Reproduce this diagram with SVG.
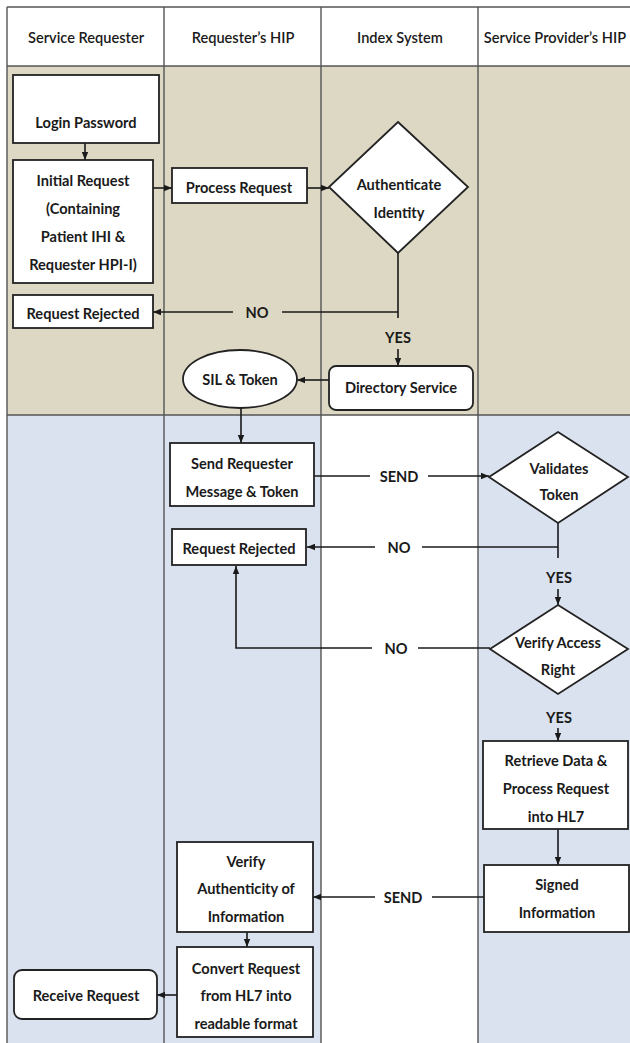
<svg xmlns="http://www.w3.org/2000/svg" width="630" height="1043" viewBox="0 0 630 1043">
<style>
text{font-family:Lato,"Liberation Sans",sans-serif;font-weight:bold;font-size:14.6px;fill:#1a1a1a;text-anchor:middle;dominant-baseline:central}
.hd{font-size:14.6px;font-weight:600}
.box{fill:#fff;stroke:#222;stroke-width:1.8}
.lane{stroke:#555;stroke-width:1.4;fill:none}
.con{stroke:#1a1a1a;stroke-width:1.6;fill:none}
</style>
<defs>
<marker id="ah" viewBox="0 0 8 8" refX="8" refY="4" markerWidth="8" markerHeight="8" markerUnits="userSpaceOnUse" orient="auto">
<path d="M0,0.8 L8,4 L0,7.2 Z" fill="#1a1a1a"/>
</marker>
</defs>
<rect width="630" height="1043" fill="#fff"/>
<g id="lanes">
<rect x="7" y="66" width="623" height="349" fill="#dcd8c4"/>
<rect x="7" y="415" width="623" height="628" fill="#d9e2ee"/>
<rect x="321" y="415" width="157" height="628" fill="#fff"/>
<line class="lane" x1="7" y1="7" x2="630" y2="7"/>
<line class="lane" x1="7" y1="66" x2="630" y2="66"/>
<line class="lane" x1="7" y1="415" x2="630" y2="415"/>
<line class="lane" x1="7" y1="7" x2="7" y2="1043"/>
<line class="lane" x1="164" y1="7" x2="164" y2="1043"/>
<line class="lane" x1="321" y1="7" x2="321" y2="1043"/>
<line class="lane" x1="478" y1="7" x2="478" y2="1043"/>
<text class="hd" x="86" y="37">Service Requester</text>
<text class="hd" x="243" y="37">Requester’s HIP</text>
<text class="hd" x="400" y="37">Index System</text>
<text class="hd" x="555" y="37">Service Provider’s HIP</text>
</g>
<g id="connectors">
<line class="con" x1="85" y1="143" x2="85" y2="160" marker-end="url(#ah)"/>
<line class="con" x1="153" y1="188" x2="172" y2="188" marker-end="url(#ah)"/>
<line class="con" x1="307" y1="188" x2="329" y2="188" marker-end="url(#ah)"/>
<polyline class="con" points="398,253 398,318"/>
<line class="con" x1="398" y1="312" x2="282" y2="312"/>
<line class="con" x1="233" y1="312" x2="153" y2="312" marker-end="url(#ah)"/>
<text x="257" y="312">NO</text>
<text x="398" y="337">YES</text>
<line class="con" x1="398" y1="349" x2="398" y2="366" marker-end="url(#ah)"/>
<line class="con" x1="329" y1="380" x2="297" y2="380" marker-end="url(#ah)"/>
<line class="con" x1="241" y1="408" x2="241" y2="443" marker-end="url(#ah)"/>
<line class="con" x1="314" y1="476" x2="370" y2="476"/>
<line class="con" x1="428" y1="476" x2="489" y2="476" marker-end="url(#ah)"/>
<text x="399" y="476">SEND</text>
<line class="con" x1="558" y1="523" x2="558" y2="558"/>
<line class="con" x1="558" y1="547" x2="422" y2="547"/>
<line class="con" x1="375" y1="547" x2="307" y2="547" marker-end="url(#ah)"/>
<text x="399" y="547">NO</text>
<text x="559" y="577">YES</text>
<line class="con" x1="558" y1="589" x2="558" y2="605" marker-end="url(#ah)"/>
<line class="con" x1="490" y1="648" x2="418" y2="648"/>
<polyline class="con" points="372,648 236,648 236,566" marker-end="url(#ah)"/>
<text x="396" y="648">NO</text>
<text x="559" y="717">YES</text>
<line class="con" x1="558" y1="728" x2="558" y2="741" marker-end="url(#ah)"/>
<line class="con" x1="558" y1="829" x2="558" y2="865" marker-end="url(#ah)"/>
<line class="con" x1="484" y1="897" x2="432" y2="897"/>
<line class="con" x1="375" y1="897" x2="313" y2="897" marker-end="url(#ah)"/>
<text x="403" y="897">SEND</text>
<line class="con" x1="247" y1="932" x2="247" y2="947" marker-end="url(#ah)"/>
<line class="con" x1="177" y1="995" x2="157" y2="995" marker-end="url(#ah)"/>
</g>
<g id="login">
<rect class="box" x="13" y="75" width="146" height="68"/>
<text x="86" y="122">Login Password</text>
</g>
<g id="initial-request">
<rect class="box" x="13" y="160" width="140" height="123"/>
<text x="83" y="180">Initial Request</text>
<text x="83" y="208">(Containing</text>
<text x="83" y="236">Patient IHI &amp;</text>
<text x="83" y="264">Requester HPI-I)</text>
</g>
<g id="process-request">
<rect class="box" x="172" y="168" width="135" height="35"/>
<text x="239" y="187">Process Request</text>
</g>
<g id="authenticate">
<polygon class="box" points="398,122 468,187 398,253 329,187"/>
<text x="399" y="184">Authenticate</text>
<text x="399" y="212">Identity</text>
</g>
<g id="rejected-1">
<rect class="box" x="13" y="295" width="140" height="33"/>
<text x="83" y="313">Request Rejected</text>
</g>
<g id="directory">
<rect class="box" x="329" y="366" width="144" height="44" rx="7"/>
<text x="401" y="387">Directory Service</text>
</g>
<g id="sil-token">
<ellipse class="box" cx="240" cy="379" rx="57" ry="29"/>
<text x="240" y="379">SIL &amp; Token</text>
</g>
<g id="send-requester">
<rect class="box" x="170" y="443" width="144" height="63"/>
<text x="242" y="463">Send Requester</text>
<text x="242" y="491">Message &amp; Token</text>
</g>
<g id="validates">
<polygon class="box" points="558,432 628,477 558,523 489,477"/>
<text x="559" y="468">Validates</text>
<text x="559" y="494">Token</text>
</g>
<g id="rejected-2">
<rect class="box" x="172" y="529" width="134" height="36"/>
<text x="239" y="548">Request Rejected</text>
</g>
<g id="verify-access">
<polygon class="box" points="558,605 628,649 558,694 490,649"/>
<text x="558" y="642">Verify Access</text>
<text x="558" y="669">Right</text>
</g>
<g id="retrieve">
<rect class="box" x="483" y="741" width="145" height="88"/>
<text x="556" y="760">Retrieve Data &amp;</text>
<text x="556" y="788">Process Request</text>
<text x="556" y="816">into HL7</text>
</g>
<g id="signed">
<rect class="box" x="484" y="865" width="145" height="67"/>
<text x="557" y="884">Signed</text>
<text x="557" y="912">Information</text>
</g>
<g id="verify-auth">
<rect class="box" x="177" y="842" width="136" height="90"/>
<text x="246" y="861">Verify</text>
<text x="246" y="888">Authenticity of</text>
<text x="246" y="916">Information</text>
</g>
<g id="convert">
<rect class="box" x="177" y="947" width="136" height="90"/>
<text x="246" y="968">Convert Request</text>
<text x="246" y="995">from HL7 into</text>
<text x="246" y="1023">readable format</text>
</g>
<g id="receive">
<rect class="box" x="14" y="970" width="143" height="49" rx="8"/>
<text x="86" y="995">Receive Request</text>
</g>
</svg>
